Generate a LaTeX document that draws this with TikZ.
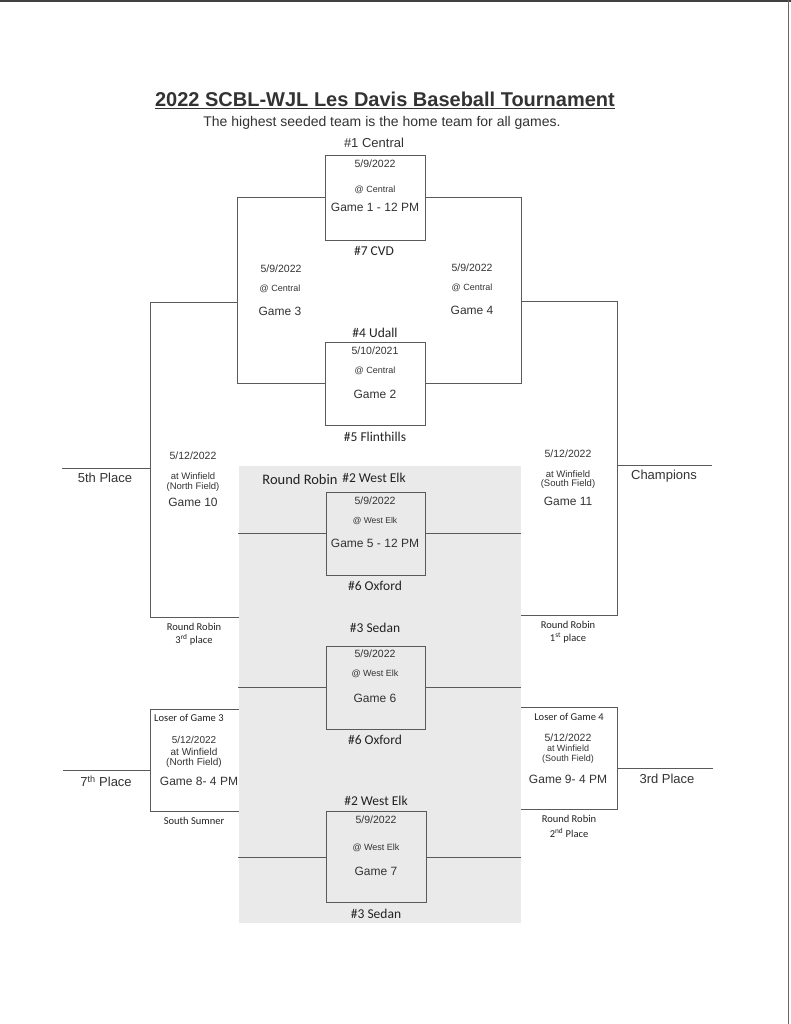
\documentclass[tikz,border=0pt]{standalone}
\usepackage{fontspec}
\setmainfont{Liberation Sans}
\newfontfamily\calfont{Carlito}
\newcommand\fsz[1]{\fontsize{#1}{#1}\selectfont}
\definecolor{ink}{HTML}{333333}
\definecolor{inkc}{HTML}{222222}
\definecolor{linec}{HTML}{5A5A5A}
\definecolor{shadec}{HTML}{EAEAEA}
\begin{document}
\begin{tikzpicture}[x=1pt,y=-1pt,
  ln/.style={draw=linec, line width=0.9pt},
  gbox/.style={ln, rectangle, inner sep=0, minimum width=100pt, minimum height=#1},
  ar/.style={inner sep=0, text=ink, font={\fsz{#1}}},
  cb/.style={inner sep=0, text=inkc, font={\calfont\fsz{#1}}}]
\useasboundingbox (0,0) rectangle (791,1024);
\fill[white] (0,0) rectangle (791,1024);
% scan edges
\draw[black!75, line width=2pt] (0,1) -- (791,1);
\draw[black!60, line width=1pt] (788.5,0) -- (788.5,1024);
% shaded round robin area
\fill[shadec] (239,466) rectangle (521,923);

% title
\node[ar=20, font={\bfseries\fsz{20}}] (title) at (385,100) {\underline{2022 SCBL-WJL Les Davis Baseball Tournament}};
\node[ar=14] (sub) at (382,123) {The highest seeded team is the home team for all games.};

% boxes
\node[gbox=85pt] (g1) at (375,197.5) {};
\node[gbox=83pt] (g2) at (375,383.5) {};
\node[gbox=83pt, minimum width=99pt] (g5) at (375.5,533.5) {};
\node[gbox=83pt, minimum width=99pt] (g6) at (375.5,687.5) {};
\node[gbox=91pt] (g7) at (376,857) {};

% bracket coordinates
\coordinate (lA) at (237,197.5);
\coordinate (lB) at (237,383.5);
\coordinate (rA) at (521,197.5);
\coordinate (rB) at (521,383.5);
\coordinate (l3) at (237,302);
\coordinate (r4) at (521,301);
\coordinate (l10t) at (150,302);
\coordinate (l10b) at (150,617);
\coordinate (l10e) at (239,617);
\coordinate (r11t) at (617,301);
\coordinate (r11b) at (617,615);
\coordinate (r11e) at (521,615);
\coordinate (p5a) at (62,468);
\coordinate (p5b) at (150,468);
\coordinate (pCa) at (617,465);
\coordinate (pCb) at (712,465);
\coordinate (l8a) at (239,709);
\coordinate (l8t) at (150,709);
\coordinate (l8b) at (150,811);
\coordinate (l8e) at (239,811);
\coordinate (p7a) at (63,770);
\coordinate (p7b) at (150,770);
\coordinate (r9a) at (521,707);
\coordinate (r9t) at (617,707);
\coordinate (r9b) at (617,809);
\coordinate (r9e) at (521,809);
\coordinate (p3a) at (617,768);
\coordinate (p3b) at (713,768);
\coordinate (sL5) at (238,533.5);
\coordinate (sR5) at (521,533.5);
\coordinate (sL6) at (238,687.5);
\coordinate (sR6) at (521,687.5);
\coordinate (sL7) at (238,857);
\coordinate (sR7) at (521,857);

% connectors
\draw[ln] (g1.west) -- (lA) -- (lB) -- (g2.west);
\draw[ln] (g1.east) -- (rA) -- (rB) -- (g2.east);
\draw[ln] (l3) -- (l10t) -- (l10b) -- (l10e);
\draw[ln] (r4) -- (r11t) -- (r11b) -- (r11e);
\draw[ln] (p5a) -- (p5b);
\draw[ln] (pCa) -- (pCb);
\draw[ln] (l8a) -- (l8t) -- (l8b) -- (l8e);
\draw[ln] (p7a) -- (p7b);
\draw[ln] (r9a) -- (r9t) -- (r9b) -- (r9e);
\draw[ln] (p3a) -- (p3b);
\draw[ln] (sL5) -- (g5.west); \draw[ln] (g5.east) -- (sR5);
\draw[ln] (sL6) -- (g6.west); \draw[ln] (g6.east) -- (sR6);
\draw[ln] (sL7) -- (g7.west); \draw[ln] (g7.east) -- (sR7);

% game 1
\node[ar=13] (t1) at (374,143) {\#1 Central};
\node[ar=10.5] (g1d) at (375,164) {5/9/2022};
\node[ar=9] (g1p) at (375,190) {@ Central};
\node[ar=12] (g1n) at (375,207) {Game 1 - 12 PM};
\node[cb=13.5] (t7) at (374,251) {\#7 CVD};
% game 3 / 4
\node[ar=10.5] (g3d) at (281,269) {5/9/2022};
\node[ar=9] (g3p) at (280,289) {@ Central};
\node[ar=12] (g3n) at (280,311) {Game 3};
\node[ar=10.5] (g4d) at (472,268) {5/9/2022};
\node[ar=9] (g4p) at (472,288) {@ Central};
\node[ar=12] (g4n) at (472,310) {Game 4};
% game 2
\node[cb=13.5] (t4) at (375,333) {\#4 Udall};
\node[ar=10.5] (g2d) at (375,351) {5/10/2021};
\node[ar=9] (g2p) at (375,371) {@ Central};
\node[ar=12] (g2n) at (375,394) {Game 2};
\node[cb=13.5] (t5) at (375,437) {\#5 Flinthills};
% game 10
\node[ar=10.5] (g10d) at (193,456) {5/12/2022};
\node[ar=9.5] (g10p) at (193,476) {at Winfield};
\node[ar=9.5] (g10f) at (193,487) {(North Field)};
\node[ar=12] (g10n) at (193,502) {Game 10};
\node[cb=10.5] (rr3a) at (194,627) {Round Robin};
\node[cb=10.5] (rr3b) at (194,640) {3\textsuperscript{rd} place};
\node[ar=13] (p5) at (105,478) {5th Place};
% game 11
\node[ar=10.5] (g11d) at (568,454) {5/12/2022};
\node[ar=9.5] (g11p) at (568,474) {at Winfield};
\node[ar=9.5] (g11f) at (568,484) {(South Field)};
\node[ar=12] (g11n) at (568,501) {Game 11};
\node[cb=10.5] (rr1a) at (568,625) {Round Robin};
\node[cb=10.5] (rr1b) at (568,638) {1\textsuperscript{st} place};
\node[ar=13] (pC) at (664,476) {Champions};
% game 5
\node[cb=14.5] (rrt) at (300,480) {Round Robin};
\node[cb=13.5] (t2a) at (374,478) {\#2 West Elk};
\node[ar=10.5] (g5d) at (375,501) {5/9/2022};
\node[ar=8.5] (g5p) at (375,521) {@ West Elk};
\node[ar=12] (g5n) at (375,543) {Game 5 - 12 PM};
\node[cb=13.5] (t6a) at (375,586) {\#6 Oxford};
% game 6
\node[cb=13.5] (t3a) at (375,628) {\#3 Sedan};
\node[ar=10.5] (g6d) at (375,654) {5/9/2022};
\node[ar=9] (g6p) at (375,674) {@ West Elk};
\node[ar=12] (g6n) at (375,698) {Game 6};
\node[cb=13.5] (t6b) at (375,740) {\#6 Oxford};
% game 8
\node[cb=10.5, anchor=west] (g8l) at (154,718) {Loser of Game 3};
\node[ar=10] (g8d) at (194,740) {5/12/2022};
\node[ar=10] (g8p) at (194,752) {at Winfield};
\node[ar=10] (g8f) at (194,763) {(North Field)};
\node[ar=12] (g8n) at (199,781) {Game 8- 4 PM};
\node[cb=10.5] (g8s) at (194,821) {South Sumner};
\node[ar=13] (p7) at (106,781) {7\textsuperscript{th} Place};
% game 9
\node[cb=10.5] (g9l) at (569,717) {Loser of Game 4};
\node[ar=10.5] (g9d) at (568,738) {5/12/2022};
\node[ar=9] (g9p) at (568,748) {at Winfield};
\node[ar=9] (g9f) at (568,759) {(South Field)};
\node[ar=12] (g9n) at (568,779) {Game 9- 4 PM};
\node[cb=10.5] (rr2a) at (569,819) {Round Robin};
\node[cb=10.5] (rr2b) at (569,833) {2\textsuperscript{nd} Place};
\node[ar=13] (p3) at (667,779) {3rd Place};
% game 7
\node[cb=13.5] (t2b) at (376,801) {\#2 West Elk};
\node[ar=10.5] (g7d) at (376,820) {5/9/2022};
\node[ar=9] (g7p) at (376,848) {@ West Elk};
\node[ar=12] (g7n) at (376,871) {Game 7};
\node[cb=13.5] (t3b) at (376,914) {\#3 Sedan};
\end{tikzpicture}
\end{document}
